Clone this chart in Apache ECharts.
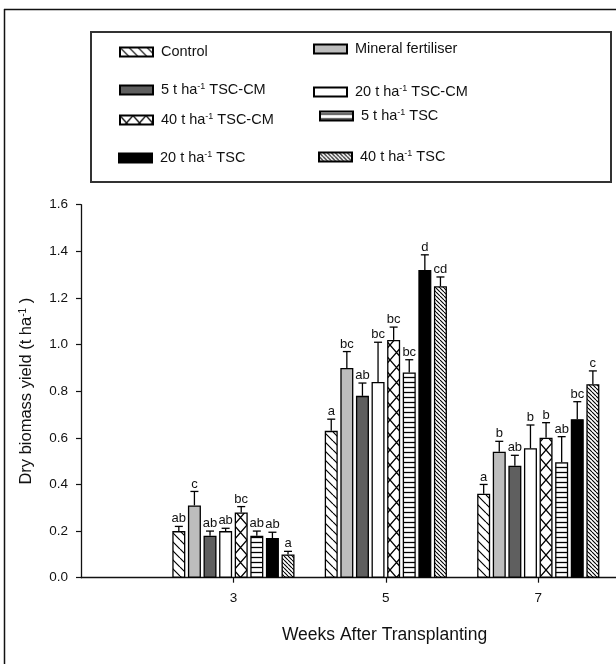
<!DOCTYPE html>
<html>
<head>
<meta charset="utf-8">
<script src="https://cdn.jsdelivr.net/npm/echarts@6/dist/echarts.min.js"></script>
<style>
  html, body { margin: 0; padding: 0; background: #fff; }
  #chart { width: 616px; height: 664px; }
</style>
</head>
<body>
<div id="chart"></div>
<script>
// weeks after transplanting
const weeks = [3, 5, 7];

const treatments = [
  "Control", "Mineral fertiliser", "5 t ha-1 TSC-CM", "20 t ha-1 TSC-CM",
  "40 t ha-1 TSC-CM", "5 t ha-1 TSC", "20 t ha-1 TSC", "40 t ha-1 TSC"
];

// dry biomass means (t/ha), one value per week
const control   = [0.20, 0.63, 0.36];
const mineral   = [0.31, 0.90, 0.54];
const tsccm5    = [0.18, 0.78, 0.48];
const tsccm20   = [0.20, 0.84, 0.555];
const tsccm40   = [0.28, 1.02, 0.60];
const tsc5      = [0.18, 0.88, 0.495];
const tsc20     = [0.17, 1.32, 0.68];
const tsc40     = [0.10, 1.25, 0.83];

// standard errors (upper bars only)
const controlErr = [0.02, 0.05, 0.04];
const mineralErr = [0.06, 0.07, 0.045];
const tsccm5Err  = [0.02, 0.055, 0.045];
const tsccm20Err = [0.012, 0.17, 0.10];
const tsccm40Err = [0.025, 0.055, 0.065];
const tsc5Err    = [0.02, 0.055, 0.11];
const tsc20Err   = [0.025, 0.065, 0.075];
const tsc40Err   = [0.013, 0.04, 0.057];

// significance letters
const controlSig = ["ab", "a", "a"];
const mineralSig = ["c", "bc", "b"];
const tsccm5Sig  = ["ab", "ab", "ab"];
const tsccm20Sig = ["ab", "bc", "b"];
const tsccm40Sig = ["bc", "bc", "b"];
const tsc5Sig    = ["ab", "bc", "ab"];
const tsc20Sig   = ["ab", "d", "bc"];
const tsc40Sig   = ["a", "cd", "c"];

const yTicks = [0, 0.2, 0.4, 0.6, 0.8, 1.0, 1.2, 1.4, 1.6];

const means = [control, mineral, tsccm5, tsccm20, tsccm40, tsc5, tsc20, tsc40];
const errs = [controlErr, mineralErr, tsccm5Err, tsccm20Err, tsccm40Err, tsc5Err, tsc20Err, tsc40Err];
const sigs = [controlSig, mineralSig, tsccm5Sig, tsccm20Sig, tsccm40Sig, tsc5Sig, tsc20Sig, tsc40Sig];

const FONT = "Liberation Sans, Arial, sans-serif";
const BAR_W = 13;
const PITCH = BAR_W * 1.2;

// fill patterns drawn on small canvases
function pattern(w, h, draw) {
  const c = document.createElement("canvas");
  c.width = w; c.height = h;
  const ctx = c.getContext("2d");
  ctx.fillStyle = "#fff";
  ctx.fillRect(0, 0, w, h);
  ctx.strokeStyle = "#000";
  ctx.lineWidth = 1.2;
  draw(ctx, w, h);
  return { image: c, repeat: "repeat" };
}
function backslash(ctx, w, h) {
  ctx.beginPath();
  for (let k = -1; k <= 1; k++) {
    ctx.moveTo(k * w, 0);
    ctx.lineTo(k * w + w, h);
  }
  ctx.stroke();
}
const fills = [
  pattern(9, 9, backslash),
  "#bdbdbd",
  "#5f5f5f",
  "#ffffff",
  pattern(13, 15, (ctx, w, h) => {
    ctx.lineWidth = 1.3;
    ctx.beginPath();
    ctx.moveTo(0, 0); ctx.lineTo(w, h);
    ctx.moveTo(w, 0); ctx.lineTo(0, h);
    ctx.stroke();
  }),
  pattern(4, 5, (ctx, w) => {
    ctx.lineWidth = 1.3;
    ctx.beginPath();
    ctx.moveTo(0, 2.5); ctx.lineTo(w, 2.5);
    ctx.stroke();
  }),
  "#000000",
  pattern(4, 4, (ctx, w, h) => { ctx.lineWidth = 1.1; backslash(ctx, w, h); })
];

// legend label with superscript
const legendText = {};
treatments.forEach(n => { legendText[n] = n.replace("-1", "{s|-1}"); });

const legendSpots = [
  [119, 44], [313, 41], [119, 82], [313, 84],
  [119, 112], [319, 108], [118, 150], [318, 149]
];

const barSeries = treatments.map((name, i) => ({
  type: "bar",
  name: name,
  data: weeks.map((w, k) => [w, means[i][k]]),
  barWidth: BAR_W,
  barGap: "20%",
  itemStyle: { color: fills[i], borderColor: "#000", borderWidth: 1.3 },
  emphasis: { disabled: true },
  z: 2
}));

const errSeries = treatments.map((name, i) => ({
  type: "custom",
  name: "err-" + i,
  data: weeks.map((w, k) => [w, means[i][k], errs[i][k]]),
  clip: false,
  z: 3,
  renderItem: (params, api) => {
    const x = api.value(0), m = api.value(1), e = api.value(2);
    const base = api.coord([x, m]);
    const tip = api.coord([x, m + e]);
    const cx = base[0] + (i - 3.5) * PITCH;
    const st = { stroke: "#000", lineWidth: 1.3 };
    return {
      type: "group",
      children: [
        { type: "line", shape: { x1: cx, y1: base[1], x2: cx, y2: tip[1] }, style: st },
        { type: "line", shape: { x1: cx - 4, y1: tip[1], x2: cx + 4, y2: tip[1] }, style: st },
        {
          type: "text", x: cx, y: tip[1] - 1,
          style: {
            text: sigs[i][params.dataIndex], fill: "#111",
            font: "13px " + FONT, align: "center", verticalAlign: "bottom"
          }
        }
      ]
    };
  }
}));

const chart = echarts.init(document.getElementById("chart"));
chart.setOption({
  animation: false,
  grid: { left: 81, right: 0, top: 204.7, bottom: 86.3, containLabel: false },
  legend: treatments.map((name, i) => ({
    data: [name],
    left: legendSpots[i][0],
    top: legendSpots[i][1],
    padding: 0,
    icon: "rect",
    itemWidth: 33,
    itemHeight: 9,
    selectedMode: false,
    formatter: n => legendText[n],
    textStyle: {
      fontFamily: FONT, fontSize: 14.5, color: "#111", lineHeight: 16, padding: [0, 0, 0, 3],
      rich: { s: { fontFamily: FONT, fontSize: 9, verticalAlign: "top", lineHeight: 10 } }
    }
  })),
  xAxis: {
    type: "value",
    min: 1,
    max: 8.02,
    name: "Weeks After Transplanting",
    nameLocation: "middle",
    nameGap: 48,
    nameTextStyle: { fontFamily: FONT, fontSize: 17.5, color: "#111", padding: [0, 0, 0, 72] },
    axisLine: { show: true, lineStyle: { color: "#111", width: 1.3 } },
    axisTick: { show: true, customValues: weeks, length: 5, lineStyle: { color: "#111", width: 1.2 } },
    axisLabel: { customValues: weeks, margin: 14, fontFamily: FONT, fontSize: 13.5, color: "#111" },
    splitLine: { show: false }
  },
  yAxis: {
    type: "value",
    min: 0,
    max: 1.6,
    interval: 0.2,
    name: "Dry biomass yield (t ha{s|-1} )",
    nameLocation: "middle",
    nameGap: 46,
    nameTextStyle: {
      fontFamily: FONT, fontSize: 16.5, color: "#111",
      rich: { s: { fontFamily: FONT, fontSize: 10, verticalAlign: "top", lineHeight: 11 } }
    },
    axisLine: { show: true, lineStyle: { color: "#111", width: 1.3 } },
    axisTick: { show: true, length: 5, lineStyle: { color: "#111", width: 1.2 } },
    axisLabel: {
      margin: 13, fontFamily: FONT, fontSize: 13.5, color: "#111",
      formatter: v => yTicks.includes(+v.toFixed(1)) ? v.toFixed(1) : ""
    },
    splitLine: { show: false }
  },
  graphic: [
    { type: "line", shape: { x1: 4, y1: 9.5, x2: 616, y2: 9.5 }, style: { stroke: "#111", lineWidth: 1.5 } },
    { type: "line", shape: { x1: 4.5, y1: 9, x2: 4.5, y2: 664 }, style: { stroke: "#111", lineWidth: 1.5 } },
    { type: "rect", shape: { x: 91, y: 32, width: 520, height: 150 }, style: { fill: "none", stroke: "#333", lineWidth: 2 } }
  ],
  series: barSeries.concat(errSeries)
});
</script>
</body>
</html>
